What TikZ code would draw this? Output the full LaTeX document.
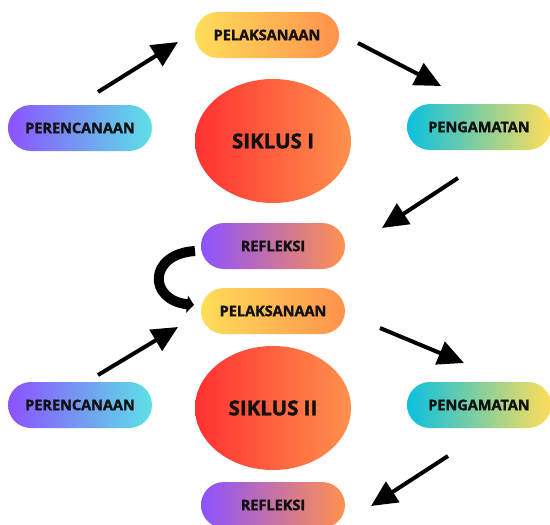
\documentclass[tikz,border=0pt]{standalone}
\usepackage{fontspec}
\setmainfont{Open Sans}[BoldFeatures={FakeBold=1.6}]
\usetikzlibrary{shapes.misc,shapes.geometric,arrows.meta}
\definecolor{cyel}{HTML}{FFDE59}
\definecolor{cora}{HTML}{FF914D}
\definecolor{cpur}{HTML}{8C52FF}
\definecolor{ccya}{HTML}{5CE1E6}
\definecolor{cblu}{HTML}{0CC0DF}
\definecolor{cred}{HTML}{FF3131}
\definecolor{ctxt}{HTML}{111111}
\tikzset{
  pill/.style={rounded rectangle, minimum width=144pt, minimum height=46pt, inner sep=0pt,
    font=\fontsize{14.5}{16}\selectfont\bfseries, text=ctxt},
  pelak/.style={pill, left color=cyel, right color=cora},
  peren/.style={pill, left color=cpur, right color=ccya},
  penga/.style={pill, left color=cblu, right color=cyel},
  refl/.style={pill, left color=cpur, right color=cora},
  siklus/.style={ellipse, minimum width=156pt, minimum height=124pt, inner sep=0pt,
    left color=cred, right color=cora, text=ctxt, font=\fontsize{20.5}{23}\selectfont\bfseries},
  bigarrow/.style={line width=4pt, -{Triangle[length=26pt,width=24pt]}},
  turnarrow/.style={line width=10pt, -{Triangle[length=7pt,width=17pt]}}
}
\begin{document}
\begin{tikzpicture}[x=1pt,y=-1pt]
\useasboundingbox (0,0) rectangle (550,525);
% cycle I
\node[pelak] (pel1) at (267,35) {PELAKSANAAN};
\node[peren] (per1) at (80,128) {PERENCANAAN};
\node[penga] (pen1) at (479,127) {PENGAMATAN};
\node[siklus] (sik1) at (273,141) {SIKLUS I};
\node[refl] (ref1) at (273,246) {REFLEKSI};
% cycle II
\node[pelak] (pel2) at (273,311) {PELAKSANAAN};
\node[peren] (per2) at (80,405) {PERENCANAAN};
\node[penga] (pen2) at (479,405) {PENGAMATAN};
\node[siklus] (sik2) at (273,408) {SIKLUS II};
\node[refl] (ref2) at (273,505) {REFLEKSI};
% arrow end points
\coordinate (a1s) at (98,92);   \coordinate (a1e) at (178,42);
\coordinate (a2s) at (358,43);  \coordinate (a2e) at (441,86);
\coordinate (a3s) at (458,178); \coordinate (a3e) at (382,228);
\coordinate (a4s) at (98,375);  \coordinate (a4e) at (178,327);
\coordinate (a5s) at (380,328); \coordinate (a5e) at (464,363);
\coordinate (a6s) at (448,456); \coordinate (a6e) at (371,506);
\coordinate (cs) at (195,251);  \coordinate (ce) at (194,305);
\draw[bigarrow] (a1s) -- (a1e);
\draw[bigarrow] (a2s) -- (a2e);
\draw[bigarrow] (a3s) -- (a3e);
\draw[bigarrow] (a4s) -- (a4e);
\draw[bigarrow] (a5s) -- (a5e);
\draw[bigarrow] (a6s) -- (a6e);
\draw[turnarrow] (cs) .. controls (148,254) and (148,300) .. (ce);
\end{tikzpicture}
\end{document}
